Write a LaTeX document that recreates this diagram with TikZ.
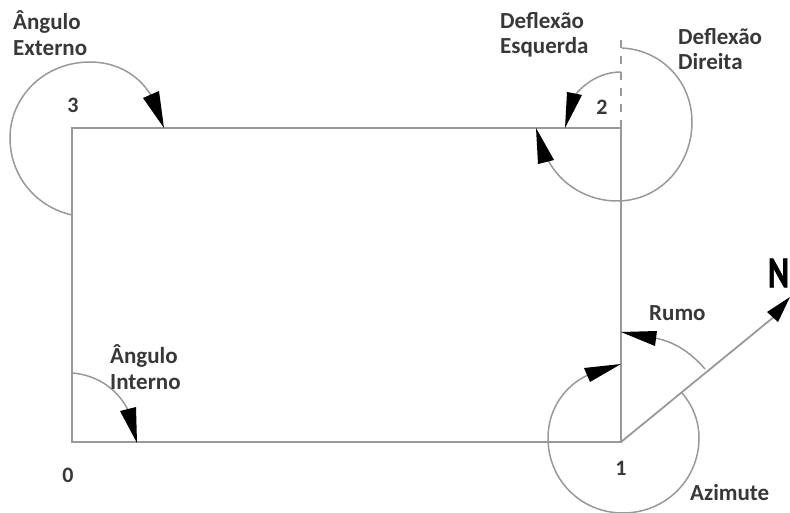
\documentclass[tikz,border=0pt]{standalone}
\usepackage{fontspec}
\setmainfont{Carlito}
\definecolor{linegray}{gray}{0.6}
\definecolor{txtgray}{gray}{0.22}
\tikzset{
  x=1pt,y=-1pt,
  edge/.style={draw=linegray,line width=1.8pt},
  angle/.style={draw=linegray,line width=1.5pt},
  head/.style={fill=black,draw=none},
  lbl/.style={font=\fontsize{23}{25.5}\selectfont\bfseries,text=txtgray,align=left,anchor=west,inner sep=0pt},
  num/.style={font=\fontsize{22}{22}\selectfont\bfseries,text=txtgray,inner sep=0pt}
}
\begin{document}
\begin{tikzpicture}
\useasboundingbox (0,0) rectangle (790,513);
\coordinate (p0) at (72,442);
\coordinate (p1) at (621,442);
\coordinate (p2) at (621,128);
\coordinate (p3) at (72,128);
\coordinate (north) at (790,297);
\coordinate (defl) at (621,40);
% traverse
\draw[edge] (p0) -- (p1) -- (p2) -- (p3) -- cycle;
\draw[edge] (p1) -- (775,316);
\draw[edge,dash pattern=on 8pt off 8pt] (p2) -- (defl);
% north head
\fill[head] (north) -- (767,312) -- (778,322) -- cycle;
% external angle
\draw[angle] (72,215) .. controls (36,207) and (10,176) .. (10,138) .. controls (10,96) and (45,62) .. (90,62) .. controls (118,62) and (140,76) .. (152,97);
\fill[head] (164,128) -- (143,98) -- (159,91) -- cycle;
% internal angle
\draw[angle] (72,373) .. controls (98,375) and (118,390) .. (128,410);
\fill[head] (137,443) -- (120,411) -- (136,407) -- cycle;
% left deflection
\draw[angle] (621,72) .. controls (603,72) and (587,81) .. (576,94);
\fill[head] (565,128) -- (567,92) -- (582,95) -- cycle;
% right deflection
\draw[angle] (622,48) .. controls (662,50) and (692,82) .. (692,122) .. controls (692,165) and (660,201) .. (617,201) .. controls (588,201) and (561,185) .. (548,160);
\fill[head] (536,128) -- (538,164) -- (554,160) -- cycle;
% bearing
\draw[angle] (705,369) .. controls (692,354) and (676,342) .. (655,338);
\fill[head] (621,332) -- (657,331) -- (655,346) -- cycle;
% azimuth
\draw[angle] (681,392) .. controls (692,404) and (699,420) .. (699,438) .. controls (699,480) and (665,513) .. (623,513) .. controls (581,513) and (548,480) .. (548,438) .. controls (548,410) and (564,386) .. (588,375);
\fill[head] (621,364) -- (584,368) -- (590,382) -- cycle;
% labels
\node[lbl] (ext) at (13,33) {Ângulo\\Externo};
\node[lbl] (int) at (110,367) {Ângulo\\Interno};
\node[lbl] (dle) at (500,35) {Deflexão\\Esquerda};
\node[lbl] (dri) at (678,49) {Deflexão\\Direita};
\node[lbl] (rum) at (649,313) {Rumo};
\node[lbl] (azi) at (690,493) {Azimute};
\node[num] (n0) at (68,475) {0};
\node[num] (n1) at (621,468) {1};
\node[num] (n2) at (602,107) {2};
\node[num] (n3) at (73,105) {3};
\node[font=\fontsize{44}{44}\selectfont\bfseries\addfontfeature{FakeBold=2},text=black,inner sep=0pt,anchor=west,xscale=0.72] (nn) at (768,273) {N};
\end{tikzpicture}
\end{document}
